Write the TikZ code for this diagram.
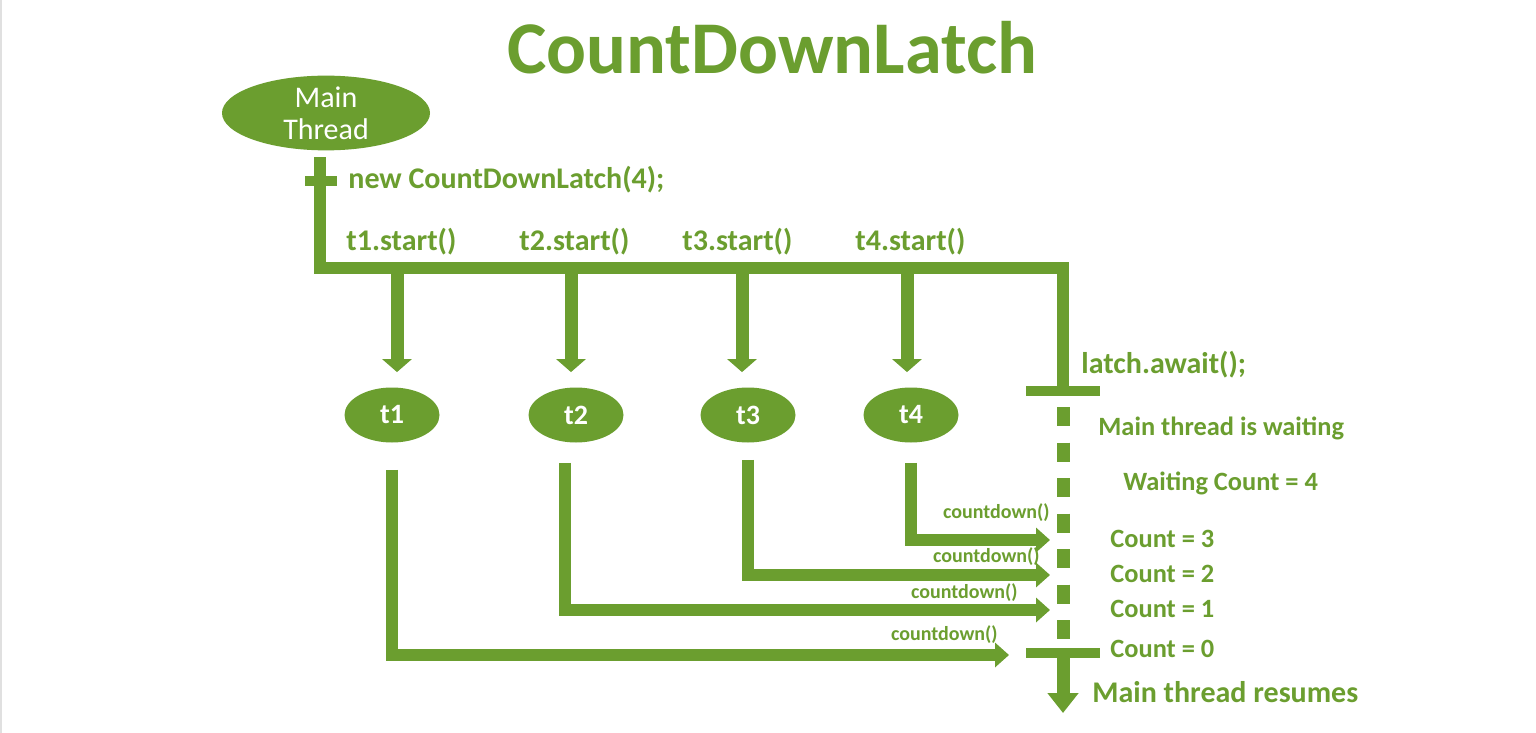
\documentclass[tikz,border=0pt]{standalone}
\usepackage{fontspec}
\setmainfont{Carlito}
\usetikzlibrary{shapes.geometric,arrows.meta,calc}
\definecolor{lg}{RGB}{107,158,47}
\begin{document}
\begin{tikzpicture}[x=0.5pt,y=-0.5pt,
  bar/.style={draw=lg,line width=6pt,line join=miter},
  tbar/.style={draw=lg,line width=5pt},
  downarrow/.style={draw=lg,line width=6.5pt,-{Triangle[width=14.5pt,length=6.5pt]}},
  rightarrow/.style={draw=lg,line width=6pt,line join=miter,-{Triangle[width=12pt,length=7pt]}},
  endarrow/.style={draw=lg,line width=6.5pt,-{Triangle[width=15pt,length=10pt]}},
  dashline/.style={draw=lg,line width=6.5pt,dash pattern=on 9.5pt off 8.25pt},
  blob/.style={ellipse,fill=lg,text=white,inner sep=0pt},
  tnode/.style={blob,minimum width=47.5pt,minimum height=27.5pt,font=\bfseries\fontsize{14}{16}\selectfont},
  lbl/.style={text=lg,inner sep=0pt,anchor=base west,font=\bfseries\fontsize{15}{18}\selectfont},
  slbl/.style={text=lg,inner sep=0pt,anchor=base west,font=\bfseries\fontsize{13.2}{16}\selectfont},
  cdl/.style={text=lg,inner sep=0pt,anchor=base east,font=\bfseries\fontsize{10}{12}\selectfont}]
\useasboundingbox (0,0) rectangle (1536,733);
\fill[white] (0,0) rectangle (1536,733);
\fill[black!12] (0,0) rectangle (2,733);

% title
\node[text=lg,inner sep=0pt,anchor=base,font=\bfseries\fontsize{37.2}{40}\selectfont] (title) at (772,74) {CountDownLatch};

% main thread
\node[blob,minimum width=104pt,minimum height=35pt,align=center,font=\fontsize{15}{16}\selectfont] (main) at (326,113) {Main\\Thread};

% thread nodes
\node[tnode] (t1) at (392,415) {t1};
\node[tnode] (t2) at (576,415) {t2};
\node[tnode] (t3) at (748,415) {t3};
\node[tnode] (t4) at (911,415) {t4};

% coordinates of the main line
\coordinate (m0) at (320,157);
\coordinate (m1) at (320,268);
\coordinate (m2) at (1063,268);
\coordinate (aw) at (1063,391);
\coordinate (awL) at (1026,391);
\coordinate (awR) at (1100,391);
\coordinate (tkL) at (305,181);
\coordinate (tkR) at (337,181);
\coordinate (d0) at (1063,407);
\coordinate (d1) at (1063,640);
\coordinate (bt) at (1063,653);
\coordinate (btL) at (1026,653);
\coordinate (btR) at (1100,653);
\coordinate (endp) at (1063,713);

\draw[bar] (m0) -- (m1) -- (m2) -- (aw);
\draw[tbar] (tkL) -- (tkR);
\draw[tbar] (awL) -- (awR);
\draw[dashline] (d0) -- (d1);
\draw[tbar] (btL) -- (btR);
\draw[endarrow] (bt) -- (endp);

% start arrows
\draw[downarrow,shorten >=7.5pt] ($(t1.north |- m1)+(5,0)$) -- ($(t1.north)+(5,0)$);
\draw[downarrow,shorten >=7.5pt] ($(t2.north |- m1)+(-5,0)$) -- ($(t2.north)+(-5,0)$);
\draw[downarrow,shorten >=7.5pt] ($(t3.north |- m1)+(-6,0)$) -- ($(t3.north)+(-6,0)$);
\draw[downarrow,shorten >=7.5pt] ($(t4.north |- m1)+(-4,0)$) -- ($(t4.north)+(-4,0)$);

% countdown arrows
\coordinate (c4) at (1050,540);
\coordinate (c3) at (1050,575);
\coordinate (c2) at (1050,610);
\coordinate (c1) at (1009,655);
\draw[rightarrow] ($(t4.south)+(0,20)$) |- (c4);
\draw[rightarrow] ($(t3.south)+(0,17)$) |- (c3);
\draw[rightarrow] ($(t2.south)+(-11,20)$) |- (c2);
\draw[rightarrow] ($(t1.south)+(0,27)$) |- (c1);

% labels
\node[lbl] (newl) at (348,188) {new CountDownLatch(4);};
\node[lbl] (s1) at (346,250) {t1.start()};
\node[lbl] (s2) at (519,250) {t2.start()};
\node[lbl] (s3) at (682,250) {t3.start()};
\node[lbl] (s4) at (855,250) {t4.start()};
\node[lbl] (await) at (1081,373) {latch.await();};
\node[slbl] (wait) at (1098,435) {Main thread is waiting};
\node[slbl] (wc) at (1123,490) {Waiting Count = 4};
\node[slbl] (k3) at (1110,547) {Count = 3};
\node[slbl] (k2) at (1110,582) {Count = 2};
\node[slbl] (k1) at (1110,617) {Count = 1};
\node[slbl] (k0) at (1110,657) {Count = 0};
\node[lbl] (res) at (1092,702) {Main thread resumes};

\node[cdl] (cd4) at (1050,518) {countdown()};
\node[cdl] (cd3) at (1040,562) {countdown()};
\node[cdl] (cd2) at (1018,598) {countdown()};
\node[cdl] (cd1) at (998,640) {countdown()};
\end{tikzpicture}
\end{document}
